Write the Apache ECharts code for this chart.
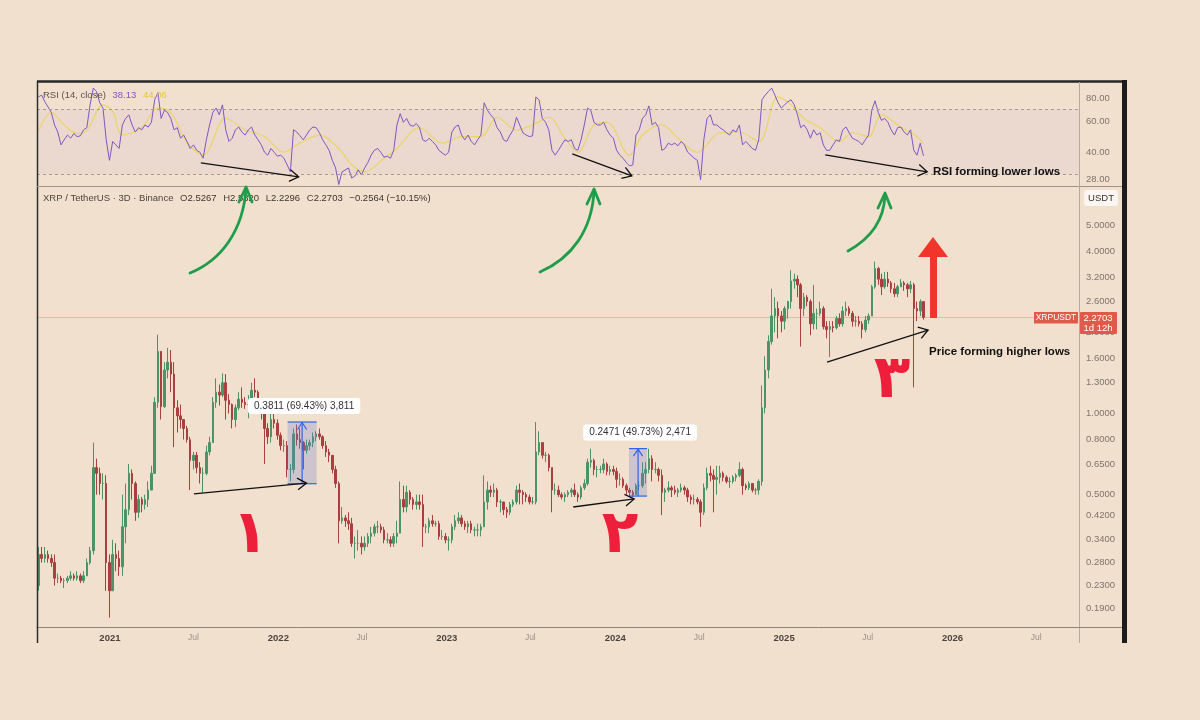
<!DOCTYPE html>
<html><head><meta charset="utf-8">
<script src="https://cdn.jsdelivr.net/npm/echarts@6/dist/echarts.min.js"></script>
<style>html,body{margin:0;padding:0;background:#f2e0ce;}#c{width:1200px;height:720px;}</style>
</head><body><div id="c"></div>
<script>
// ---------------- DATA (weekly candles) ----------------
const firstWeek = '2020-07-30';
const axisStart = '2020-07-27';
const axisEnd = '2026-10-02';
const firstOpen = 0.23;
const closes = [
0.30,0.29,0.30,0.29,0.28,0.245,0.245,0.24,0.24,0.245,
0.25,0.245,0.25,0.24,0.25,0.28,0.31,0.63,0.60,0.55,
0.55,0.28,0.22,0.30,0.29,0.27,0.38,0.44,0.60,0.55,
0.43,0.48,0.46,0.48,0.52,0.60,1.10,1.70,1.06,1.45,
1.55,1.40,1.05,0.98,0.95,0.88,0.80,0.67,0.70,0.63,
0.60,0.60,0.72,0.78,1.10,1.20,1.17,1.30,1.12,1.08,
0.95,1.05,1.13,1.10,1.08,1.08,1.22,1.20,1.08,1.00,
0.88,0.82,0.95,0.92,0.83,0.76,0.76,0.62,0.62,0.84,
0.80,0.78,0.73,0.76,0.78,0.82,0.84,0.82,0.76,0.72,
0.70,0.62,0.55,0.40,0.41,0.40,0.39,0.33,0.33,0.33,
0.32,0.33,0.35,0.36,0.38,0.38,0.37,0.34,0.34,0.33,
0.35,0.36,0.48,0.45,0.51,0.48,0.46,0.47,0.46,0.38,
0.38,0.40,0.39,0.39,0.35,0.35,0.34,0.34,0.38,0.40,
0.41,0.39,0.38,0.39,0.37,0.37,0.37,0.38,0.47,0.52,
0.51,0.52,0.47,0.47,0.44,0.43,0.46,0.47,0.52,0.51,
0.50,0.49,0.47,0.47,0.72,0.78,0.70,0.70,0.63,0.52,
0.52,0.50,0.49,0.50,0.51,0.52,0.50,0.49,0.53,0.55,
0.66,0.67,0.62,0.62,0.62,0.65,0.61,0.62,0.61,0.57,
0.57,0.54,0.52,0.51,0.50,0.54,0.54,0.60,0.62,0.68,
0.62,0.62,0.59,0.51,0.52,0.53,0.52,0.51,0.52,0.53,
0.52,0.49,0.48,0.48,0.47,0.43,0.53,0.60,0.59,0.57,
0.58,0.60,0.58,0.56,0.56,0.58,0.59,0.62,0.54,0.53,
0.55,0.52,0.52,0.56,1.05,1.45,1.85,2.30,2.45,2.30,
2.20,2.45,2.60,3.10,3.15,3.00,2.45,2.70,2.60,2.15,
2.35,2.35,2.45,2.10,2.05,2.10,2.08,2.25,2.15,2.40,
2.45,2.35,2.20,2.20,2.15,2.05,2.22,2.30,2.95,3.45,
3.15,2.95,3.15,3.05,2.90,2.78,2.95,3.05,3.00,2.90,
3.00,2.45,2.40,2.60,2.2703];
const highs = [
0.32,0.32,0.32,0.31,0.30,0.30,0.255,0.25,0.245,0.25,
0.26,0.255,0.26,0.255,0.26,0.29,0.32,0.78,0.68,0.63,
0.60,0.59,0.30,0.34,0.33,0.31,0.50,0.55,0.65,0.62,
0.56,0.50,0.49,0.50,0.56,0.64,1.15,1.96,1.70,1.55,
1.75,1.72,1.55,1.12,1.08,0.95,0.90,0.82,0.72,0.72,
0.66,0.63,0.76,0.82,1.15,1.35,1.28,1.41,1.40,1.18,
1.09,1.08,1.20,1.25,1.15,1.17,1.30,1.35,1.22,1.10,
1.04,0.92,1.00,1.00,0.95,0.85,0.80,0.79,0.65,0.88,
0.91,0.88,0.79,0.80,0.80,0.85,0.86,0.88,0.83,0.79,
0.74,0.70,0.64,0.56,0.45,0.42,0.43,0.41,0.35,0.37,
0.35,0.35,0.36,0.38,0.39,0.40,0.39,0.38,0.36,0.35,
0.36,0.40,0.56,0.54,0.54,0.52,0.49,0.50,0.50,0.50,
0.39,0.41,0.42,0.40,0.40,0.37,0.36,0.35,0.39,0.42,
0.43,0.42,0.40,0.40,0.40,0.38,0.39,0.39,0.59,0.56,
0.54,0.55,0.53,0.48,0.47,0.45,0.47,0.48,0.54,0.55,
0.52,0.51,0.50,0.49,0.93,0.86,0.78,0.72,0.71,0.63,
0.55,0.54,0.51,0.51,0.52,0.53,0.55,0.51,0.54,0.57,
0.68,0.74,0.68,0.64,0.64,0.68,0.66,0.64,0.64,0.63,
0.60,0.58,0.55,0.53,0.52,0.55,0.56,0.66,0.66,0.74,
0.70,0.66,0.63,0.62,0.53,0.56,0.54,0.54,0.53,0.55,
0.54,0.53,0.50,0.50,0.49,0.48,0.55,0.63,0.64,0.62,
0.64,0.64,0.61,0.59,0.58,0.59,0.60,0.66,0.63,0.55,
0.56,0.55,0.53,0.57,1.27,1.63,1.95,2.90,2.70,2.60,
2.40,2.50,2.62,3.40,3.30,3.25,3.05,2.80,2.75,2.65,
3.00,2.45,2.60,2.50,2.20,2.20,2.20,2.30,2.35,2.50,
2.60,2.50,2.40,2.30,2.30,2.20,2.30,2.35,3.00,3.66,
3.50,3.30,3.35,3.35,3.10,3.05,3.00,3.15,3.10,3.05,
3.10,3.05,2.60,2.65,2.60];
const lows = [
0.22,0.28,0.28,0.28,0.27,0.23,0.235,0.235,0.225,0.235,
0.24,0.24,0.24,0.235,0.235,0.25,0.275,0.30,0.50,0.50,
0.48,0.22,0.175,0.22,0.26,0.25,0.25,0.33,0.42,0.48,
0.40,0.41,0.43,0.44,0.45,0.52,0.60,1.05,0.95,1.05,
1.35,1.20,0.75,0.85,0.88,0.80,0.78,0.52,0.62,0.60,
0.55,0.51,0.59,0.70,0.78,1.05,1.07,1.15,0.95,1.00,
0.88,0.89,1.03,1.05,1.04,0.96,1.06,1.15,1.00,0.95,
0.65,0.77,0.78,0.88,0.80,0.73,0.72,0.58,0.56,0.60,
0.76,0.74,0.62,0.71,0.73,0.75,0.79,0.80,0.74,0.69,
0.66,0.60,0.53,0.33,0.39,0.38,0.37,0.32,0.29,0.31,
0.30,0.31,0.32,0.33,0.35,0.36,0.36,0.33,0.33,0.32,
0.32,0.33,0.36,0.43,0.43,0.46,0.44,0.44,0.44,0.32,
0.36,0.36,0.38,0.38,0.34,0.34,0.33,0.31,0.33,0.37,
0.39,0.38,0.37,0.36,0.36,0.35,0.35,0.35,0.38,0.44,
0.49,0.49,0.45,0.43,0.42,0.41,0.42,0.45,0.46,0.46,
0.46,0.47,0.46,0.46,0.46,0.70,0.68,0.66,0.61,0.43,
0.50,0.49,0.48,0.47,0.49,0.49,0.49,0.47,0.48,0.52,
0.54,0.63,0.59,0.58,0.60,0.60,0.59,0.59,0.59,0.53,
0.54,0.53,0.50,0.49,0.49,0.50,0.52,0.53,0.55,0.60,
0.56,0.60,0.56,0.42,0.47,0.51,0.49,0.50,0.49,0.51,
0.50,0.47,0.46,0.46,0.46,0.38,0.42,0.52,0.56,0.43,
0.50,0.55,0.56,0.55,0.53,0.55,0.56,0.58,0.50,0.52,
0.52,0.51,0.50,0.50,0.54,1.00,1.35,1.80,2.00,1.90,
2.00,2.05,2.25,2.45,2.90,2.70,1.77,2.30,2.50,1.95,
2.05,2.05,2.30,2.05,1.90,1.62,2.00,2.05,2.10,2.10,
2.30,2.30,2.10,2.10,2.10,1.90,2.00,2.15,2.30,2.90,
3.00,2.75,2.90,2.95,2.80,2.70,2.70,2.95,2.85,2.70,
2.80,1.25,2.20,2.30,2.2296];
const rsi = [
82,84,77,72,67,57,52,44,47,50,
48,51,49,49.5,53.5,55,74,92,88,76,
71,47,36,46,44,42,57,62,65,57,
52,55,53.5,57,55.5,59,79,87,62,69,
67,62,53.5,55,48,50,46,42,44,41,
40,37,47,57,67,71,65,74,53.5,46,
48,53.5,55.5,52,50,53.5,55.5,50,47,44,
40,38.5,42,40,38,38.5,37,34,31,53.5,
52,49.5,47,50,53.5,55.5,55,51.5,47,44,
41,36,32.6,26.3,31,31.8,32.6,28.6,29.4,31.8,
29.8,32.6,35,38.5,41,42,40,37.5,38,37,
41,57,66,59,62,57,56,58,55,47,
46,48,46,44,41,39.6,38.5,40,52,55.5,
57,50,47,50,46,44,47,50,76,69,
65,62,55,52,47,46,50,53.5,63,57,
51.5,50,49,49.5,82,79,62,59,53.5,41,
38.5,41,44,47,46,47,42,41,47,57,
71,69,59,57,57,59,53.5,50,48,41,
38.5,37,35,33.5,33.9,50,53.5,62,65,73,
57,59,55,41,42,45,44,45,43.5,46,
44,40,38.5,37,36,28,47,62,65,57,
57,55,53.5,51.5,50,53.5,52,57,44,46,
44,42,41,47,79,84,88,92,84,76,
71,74,77,79,74,65,55,57,53.5,48,
53.5,50,51.5,44,41,41,44,47,46,53.5,
55.5,51.5,48,47,46,44,47,50,69,78,
67,60.5,62,59,53.5,50,55,55.5,52,50,
53.5,41,38.5,45,38.13];
const maWeeks = [0,4,8,12,15,20,23,26,32,37,41,46,51,58,64,70,76,80,87,93,97,101,107,111,118,125,131,137,142,148,153,158,163,167,172,176,183,187,193,198,204,211,217,223,229,233,237,242,248,252,257,261,267,272,274];
const maVals = [52.7,67,57,51,53,74,68,50,55,71,67,45.5,38.5,62,53.5,49,40,44,50,42,34,31,37,42,55,45,49,49,63,53.5,57,63,48,40,57,59,38.5,50,57,48,40,51.5,52,46,82,74,62,55,46,51.5,49,65,55.5,49,44.6];
const xTickDates = ['2021-01-01','2021-07-01','2022-01-01','2022-07-01','2023-01-01','2023-07-01','2024-01-01','2024-07-01','2025-01-01','2025-07-01','2026-01-01','2026-07-01'];
const xTickLabels = ['2021','Jul','2022','Jul','2023','Jul','2024','Jul','2025','Jul','2026','Jul'];
const priceTicks = [0.19,0.23,0.28,0.34,0.42,0.50,0.65,0.80,1.0,1.3,1.6,2.0,2.6,3.2,4.0,5.0];
const rsiTicks = [28,40,60,80];
const rsiLevels = [70,30];
const lastClose = 2.2703;
const measures = [
  {from:'2022-01-21', to:'2022-03-25', low:0.549, high:0.930, label:'0.3811 (69.43%) 3,811'},
  {from:'2024-01-31', to:'2024-03-10', low:0.494, high:0.741, label:'0.2471 (49.73%) 2,471'}
];
const priceArrows = [
  [['2021-07-02',0.503],['2022-03-03',0.552]],
  [['2023-10-02',0.450],['2024-02-11',0.482]],
  [['2025-04-04',1.552],['2025-11-09',2.04]]
];
const rsiArrows = [
  [['2021-07-17',34.8],['2022-02-14',29.05]],
  [['2023-09-30',39.2],['2024-02-06',29.4]],
  [['2025-03-31',38.7],['2025-11-07',31.0]]
];

// ---------------- BUILD ----------------
const DAY = 86400000;
const D = s => Date.parse(s + 'T00:00:00Z');
const t0 = D(firstWeek);
const wt = i => t0 + i * 7 * DAY;
const candles = closes.map((c, i) => [wt(i), i === 0 ? firstOpen : closes[i - 1], c, lows[i], highs[i]]);
const rsiData = rsi.map((v, i) => [wt(i), v]);
const maData = maWeeks.map((w, k) => [wt(w), maVals[k]]);
const obBase = rsi.map((v, i) => [wt(i), 70]);
const obFill = rsi.map((v, i) => [wt(i), Math.max(v - 70, 0)]);
const xTickTimes = xTickDates.map(D);
const FONT = '"Liberation Sans", Arial, sans-serif';

function xFmt(v) {
  let best = 0, bd = Infinity;
  xTickTimes.forEach((t, k) => { const d = Math.abs(t - v); if (d < bd) { bd = d; best = k; } });
  const s = xTickLabels[best];
  return s === 'Jul' ? '{m|' + s + '}' : '{y|' + s + '}';
}

const option = {
  backgroundColor: '#f2e0ce',
  animation: false,
  grid: [
    {left: 37, right: 121, top: 84, height: 102},
    {left: 37, right: 121, top: 188, bottom: 93}
  ],
  xAxis: [
    {type: 'value', gridIndex: 0, min: D(axisStart), max: D(axisEnd), show: false, splitLine: {show: false}},
    {type: 'value', gridIndex: 1, min: D(axisStart), max: D(axisEnd),
     axisLine: {show: true, lineStyle: {color: '#8c8279', width: 1}},
     axisTick: {show: false}, splitLine: {show: false},
     axisLabel: {customValues: xTickTimes, formatter: xFmt, margin: 6,
       rich: {y: {fontSize: 9.5, fontWeight: 'bold', color: '#4a4440', fontFamily: FONT},
              m: {fontSize: 8.5, color: '#9a918a', fontFamily: FONT}}}}
  ],
  yAxis: [
    {type: 'log', logBase: 10, gridIndex: 0, position: 'right', min: 25.8, max: 97,
     axisLine: {show: true, lineStyle: {color: '#b5aaa0'}}, axisTick: {show: false}, splitLine: {show: false},
     axisLabel: {customValues: rsiTicks, formatter: v => Number(v).toFixed(2), color: '#7d746c', fontSize: 9.5, margin: 7, fontFamily: FONT}},
    {type: 'log', logBase: 10, gridIndex: 1, position: 'right', min: 0.1615, max: 6.86,
     axisLine: {show: true, lineStyle: {color: '#b5aaa0'}}, axisTick: {show: false}, splitLine: {show: false},
     axisLabel: {customValues: priceTicks, formatter: v => Number(v).toFixed(4), color: '#7d746c', fontSize: 9.5, margin: 7, fontFamily: FONT}}
  ],
  series: [
    {type: 'line', name: 'obBase', xAxisIndex: 0, yAxisIndex: 0, stack: 'ob', data: obBase, symbol: 'none',
     lineStyle: {opacity: 0}, silent: true, z: 1},
    {type: 'line', name: 'obFill', xAxisIndex: 0, yAxisIndex: 0, stack: 'ob', data: obFill, symbol: 'none',
     lineStyle: {opacity: 0}, silent: true, z: 1,
     areaStyle: {color: {type: 'linear', x: 0, y: 0, x2: 0, y2: 1, colorStops: [
       {offset: 0, color: 'rgba(60,160,80,0.75)'}, {offset: 1, color: 'rgba(120,190,120,0.25)'}]}}},
    {type: 'line', name: 'RSI MA', xAxisIndex: 0, yAxisIndex: 0, data: maData, symbol: 'none', smooth: 0.35,
     lineStyle: {color: '#ecd45c', width: 1.2, opacity: 0.9}, z: 3},
    {type: 'line', name: 'RSI', xAxisIndex: 0, yAxisIndex: 0, data: rsiData, symbol: 'none',
     lineStyle: {color: '#7e57c2', width: 1}, z: 4,
     markArea: {silent: true, itemStyle: {color: 'rgba(160,120,210,0.07)'}, data: [[{yAxis: rsiLevels[1]}, {yAxis: rsiLevels[0]}]]},
     markLine: {silent: true, symbol: 'none', label: {show: false},
       lineStyle: {color: '#a49c95', type: [3, 3], width: 1}, data: rsiLevels.map(v => ({yAxis: v}))}},
    {type: 'candlestick', name: 'XRPUSDT', xAxisIndex: 1, yAxisIndex: 1, data: candles, barWidth: 2,
     itemStyle: {color: '#4a9468', color0: '#aa3f40', borderColor: '#4a9468', borderColor0: '#aa3f40', borderWidth: 1},
     markLine: {silent: true, symbol: 'none', label: {show: false},
       lineStyle: {color: 'rgba(214,92,70,0.3)', width: 1, type: 'solid'}, data: [{yAxis: lastClose}]}}
  ]
};

const chart = echarts.init(document.getElementById('c'));
chart.setOption(option);

const PP = (d, v) => chart.convertToPixel({xAxisIndex: 1, yAxisIndex: 1}, [D(d), v]);
const RP = (d, v) => chart.convertToPixel({xAxisIndex: 0, yAxisIndex: 0}, [D(d), v]);

function arrow(p1, p2, color, lw, head) {
  const dx = p2[0] - p1[0], dy = p2[1] - p1[1], L = Math.hypot(dx, dy);
  const ux = dx / L, uy = dy / L, nx = -uy, ny = ux;
  const h = head || 8, w = h * 0.65;
  return [
    {type: 'line', z: 100, shape: {x1: p1[0], y1: p1[1], x2: p2[0], y2: p2[1]}, style: {stroke: color, lineWidth: lw}},
    {type: 'polyline', z: 100, shape: {points: [[p2[0] - h * ux + w * nx, p2[1] - h * uy + w * ny], p2, [p2[0] - h * ux - w * nx, p2[1] - h * uy - w * ny]]},
     style: {stroke: color, lineWidth: lw, fill: null}}
  ];
}

const G = [];
// frame
G.push({type: 'line', z: 100, shape: {x1: 37, y1: 81.5, x2: 1127, y2: 81.5}, style: {stroke: '#262626', lineWidth: 2.5}});
G.push({type: 'line', z: 100, shape: {x1: 37.5, y1: 81, x2: 37.5, y2: 643}, style: {stroke: '#2e2e2e', lineWidth: 1.5}});
G.push({type: 'rect', z: 100, shape: {x: 1122, y: 80, width: 5, height: 563}, style: {fill: '#1c1c1c'}});
G.push({type: 'line', z: 100, shape: {x1: 37, y1: 186.5, x2: 1122, y2: 186.5}, style: {stroke: '#9c948c', lineWidth: 1}});
G.push({type: 'line', z: 100, shape: {x1: 1079.5, y1: 82, x2: 1079.5, y2: 643}, style: {stroke: '#b5aaa0', lineWidth: 1}});
G.push({type: 'line', z: 100, shape: {x1: 1079, y1: 627.5, x2: 1122, y2: 627.5}, style: {stroke: '#8c8279', lineWidth: 1}});

// legends
G.push({type: 'text', z: 100, style: {x: 43, y: 95, verticalAlign: 'middle',
  text: '{a|RSI (14, close)}  {b|38.13}  {c|44.06}',
  rich: {a: {fill: '#5a524c', fontSize: 9.5, fontFamily: FONT}, b: {fill: '#7e57c2', fontSize: 9.5, fontFamily: FONT}, c: {fill: '#e3c63c', fontSize: 9.5, fontFamily: FONT}}}});
G.push({type: 'text', z: 100, style: {x: 43, y: 198, verticalAlign: 'middle',
  text: '{a|XRP / TetherUS · 3D · Binance}  {a|O}{v|2.5267}  {a|H}{v|2.5320}  {a|L}{v|2.2296}  {a|C}{v|2.2703}  {v|−0.2564 (−10.15%)}',
  rich: {a: {fill: '#4a4440', fontSize: 9.5, fontFamily: FONT}, v: {fill: '#3a3430', fontSize: 9.5, fontFamily: FONT}}}});

// measurement boxes
measures.forEach(m => {
  const a = PP(m.from, m.high), b = PP(m.to, m.low);
  const x = a[0], y = a[1], w = b[0] - a[0], h = b[1] - a[1], cx = x + w / 2;
  G.push({type: 'rect', z: 100, shape: {x, y, width: w, height: h}, style: {fill: 'rgba(110,125,205,0.28)'}});
  G.push({type: 'line', z: 100, shape: {x1: x, y1: y, x2: x + w, y2: y}, style: {stroke: '#2f63f0', lineWidth: 1.2}});
  G.push({type: 'line', z: 100, shape: {x1: x, y1: y + h, x2: x + w, y2: y + h}, style: {stroke: '#2f63f0', lineWidth: 1.2}});
  arrow([cx, y + h], [cx, y + 0.5], '#2f63f0', 1.2, 7).forEach(e => G.push(e));
  G.push({type: 'text', z: 101, style: {x: cx + 2, y: y - 16, align: 'center', verticalAlign: 'middle', text: m.label,
    fill: '#333', fontSize: 10, fontFamily: FONT, backgroundColor: '#ffffff', padding: [3, 6], borderRadius: 3}});
});

// trend arrows
priceArrows.forEach(a => arrow(PP(a[0][0], a[0][1]), PP(a[1][0], a[1][1]), '#111', 1.3, 9).forEach(e => G.push(e)));
rsiArrows.forEach(a => arrow(RP(a[0][0], a[0][1]), RP(a[1][0], a[1][1]), '#111', 1.3, 9).forEach(e => G.push(e)));

// green hand-drawn arrows
const greens = [
  {s: [190, 273], c1: [222, 260], c2: [243, 230], e: [246, 189]},
  {s: [540, 272], c1: [572, 258], c2: [592, 230], e: [594, 191]},
  {s: [848, 251], c1: [868, 240], c2: [884, 222], e: [885, 195]}
];
greens.forEach(g => {
  G.push({type: 'bezierCurve', z: 102, shape: {x1: g.s[0], y1: g.s[1], cpx1: g.c1[0], cpy1: g.c1[1], cpx2: g.c2[0], cpy2: g.c2[1], x2: g.e[0], y2: g.e[1]},
    style: {stroke: '#1f9d4a', lineWidth: 2.8, fill: null, lineCap: 'round'}});
  G.push({type: 'polyline', z: 102, shape: {points: [[g.e[0] - 7, g.e[1] + 13], [g.e[0], g.e[1] - 2], [g.e[0] + 6, g.e[1] + 13]]},
    style: {stroke: '#1f9d4a', lineWidth: 2.8, fill: null, lineCap: 'round', lineJoin: 'round'}});
});

// red arrow
G.push({type: 'polygon', z: 102, shape: {points: [[930, 318], [930, 257], [918, 257], [933, 237], [948, 257], [937, 257], [937, 318]]}, style: {fill: '#f2352b'}});

// red numerals
[['۱', 250, 536], ['۲', 620, 536], ['۳', 892, 381]].forEach(d => {
  G.push({type: 'text', z: 102, style: {x: d[1], y: d[2], align: 'center', verticalAlign: 'middle', text: d[0],
    fill: '#ee1f3b', fontSize: 60, fontWeight: 'bold', fontFamily: '"DejaVu Sans", sans-serif'}});
});

// annotation texts
G.push({type: 'text', z: 102, style: {x: 933, y: 172, verticalAlign: 'middle', text: 'RSI forming lower lows', fill: '#111', fontSize: 11.5, fontWeight: 'bold', fontFamily: FONT}});
G.push({type: 'text', z: 102, style: {x: 929, y: 352, verticalAlign: 'middle', text: 'Price forming higher lows', fill: '#111', fontSize: 11.5, fontWeight: 'bold', fontFamily: FONT}});

// USDT box
G.push({type: 'text', z: 102, style: {x: 1101, y: 198, align: 'center', verticalAlign: 'middle', text: 'USDT', fill: '#333', fontSize: 9.5, fontFamily: FONT,
  backgroundColor: '#fbf6f1', padding: [3, 4], borderRadius: 3}});

// price tag
const ty = PP('2025-10-30', lastClose)[1];
G.push({type: 'rect', z: 102, shape: {x: 1034, y: ty - 5.5, width: 44, height: 11.5}, style: {fill: '#df5a48'}});
G.push({type: 'text', z: 103, style: {x: 1056, y: ty, align: 'center', verticalAlign: 'middle', text: 'XRPUSDT', fill: '#fff', fontSize: 8.5, fontFamily: FONT}});
G.push({type: 'rect', z: 102, shape: {x: 1080, y: ty - 5.5, width: 37, height: 22, r: 1}, style: {fill: '#df5a48'}});
G.push({type: 'text', z: 103, style: {x: 1098, y: ty + 0.5, align: 'center', verticalAlign: 'middle', text: '2.2703', fill: '#fff', fontSize: 9.5, fontFamily: FONT}});
G.push({type: 'text', z: 103, style: {x: 1098, y: ty + 10.5, align: 'center', verticalAlign: 'middle', text: '1d 12h', fill: '#fff', fontSize: 9.5, fontFamily: FONT}});

chart.setOption({graphic: G});
</script>
</body></html>
